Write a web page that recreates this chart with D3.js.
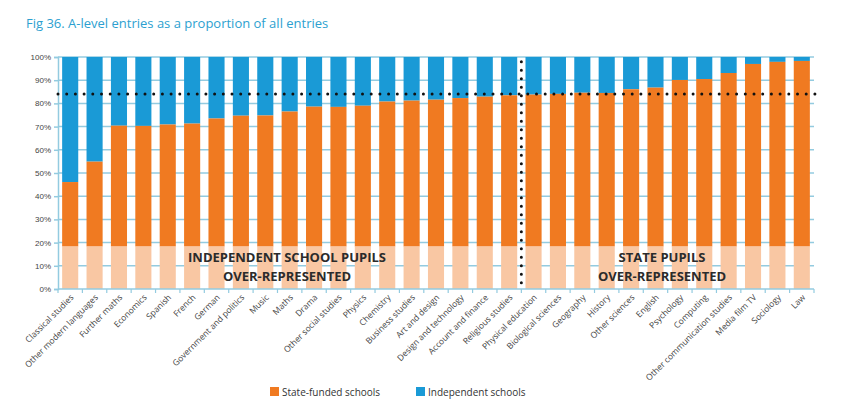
<!DOCTYPE html>
<html>
<head>
<meta charset="utf-8">
<script src="https://cdn.jsdelivr.net/npm/d3@7"></script>
<style>
  body { margin: 0; background: #fff; }
  svg { font-family: "Open Sans", "Noto Sans", sans-serif; }
</style>
</head>
<body>
<svg id="chart" width="846" height="419"></svg>
<script>
const subjects = ["Classical studies", "Other modern languages", "Further maths", "Economics", "Spanish",
  "French", "German", "Government and politics", "Music", "Maths", "Drama", "Other social studies",
  "Physics", "Chemistry", "Business studies", "Art and design", "Design and technology",
  "Account and finance", "Religious studies", "Physical education", "Biological sciences",
  "Geography", "History", "Other sciences", "English", "Psychology", "Computing",
  "Other communication studies", "Media film TV", "Sociology", "Law"];

// share of entries from state-funded schools (%), rest is independent
const stateShare = [46.1, 54.9, 70.4, 70.3, 70.9, 71.3, 73.5, 74.7, 74.8, 76.5, 78.6, 78.5,
  79.0, 80.8, 81.2, 81.6, 82.3, 82.9, 83.5, 83.8, 84.1, 84.6, 84.5, 86.1, 86.8, 90.1, 90.5,
  93.1, 97.0, 97.9, 98.3];

const baseShare = 18.3;   // pale band at the bottom of each bar
const averageState = 84;  // dotted reference line
const splitAfter = "Religious studies";
const yTicks = [0, 10, 20, 30, 40, 50, 60, 70, 80, 90, 100];

const svg = d3.select("#chart");
const margin = { top: 57, right: 32, bottom: 130, left: 58 };
const width = 846, height = 419;

const x = d3.scaleBand()
  .domain(subjects)
  .range([margin.left, width - margin.right])
  .paddingInner(0.34)
  .paddingOuter(0.17);

const y = d3.scaleLinear()
  .domain([0, 100])
  .range([height - margin.bottom, margin.top]);

const orange = "#f07a21", blue = "#1a9ad6", peach = "#f9c7a3", grid = "#93cbe0";

// title
svg.append("text")
  .attr("x", 26).attr("y", 28)
  .attr("fill", "#2c9fd0")
  .style("font-size", "13px")
  .text("Fig 36. A-level entries as a proportion of all entries");

// gridlines
svg.append("g")
  .selectAll("line")
  .data(yTicks.slice(1))
  .join("line")
  .attr("x1", margin.left).attr("x2", width - margin.right)
  .attr("y1", d => y(d)).attr("y2", d => y(d))
  .attr("stroke", grid).attr("stroke-width", 1.5);

const bars = svg.append("g")
  .selectAll("g")
  .data(subjects.map((s, i) => ({ s, v: stateShare[i] })))
  .join("g");

bars.append("rect")
  .attr("x", d => x(d.s)).attr("width", x.bandwidth())
  .attr("y", y(100)).attr("height", d => y(d.v) - y(100))
  .attr("fill", blue);

bars.append("rect")
  .attr("x", d => x(d.s)).attr("width", x.bandwidth())
  .attr("y", d => y(d.v)).attr("height", d => y(baseShare) - y(d.v))
  .attr("fill", orange);

bars.append("rect")
  .attr("x", d => x(d.s)).attr("width", x.bandwidth())
  .attr("y", y(baseShare)).attr("height", y(0) - y(baseShare))
  .attr("fill", peach);

// y axis
svg.append("g")
  .attr("transform", `translate(${margin.left},0)`)
  .call(d3.axisLeft(y).tickValues(yTicks).tickFormat(d => d + "%").tickSize(4).tickPadding(3))
  .call(g => g.selectAll(".domain, line").attr("stroke", grid).attr("stroke-width", 1.5))
  .call(g => g.selectAll("text").attr("fill", "#444").style("font-size", "8px"));

// x axis
const boundaries = subjects.map(s => x(s) - x.step() * x.paddingInner() / 2).concat([width - margin.right]);
const xg = svg.append("g")
  .attr("transform", `translate(0,${y(0)})`);
xg.append("line")
  .attr("x1", margin.left).attr("x2", width - margin.right)
  .attr("stroke", grid).attr("stroke-width", 1.5);
xg.selectAll(".tick")
  .data(boundaries)
  .join("line")
  .attr("x1", d => d).attr("x2", d => d)
  .attr("y1", 0).attr("y2", 4)
  .attr("stroke", grid).attr("stroke-width", 1.2);
xg.selectAll("text")
  .data(subjects)
  .join("text")
  .attr("transform", d => `translate(${x(d) + x.bandwidth() / 2 + 4},${9}) rotate(-45)`)
  .attr("text-anchor", "end")
  .attr("fill", "#444")
  .style("font-size", "8.5px")
  .text(d => d);

// dotted reference lines
svg.append("line")
  .attr("x1", margin.left).attr("x2", width - margin.right + 2)
  .attr("y1", y(averageState)).attr("y2", y(averageState))
  .attr("stroke", "#111").attr("stroke-width", 3)
  .attr("stroke-linecap", "round").attr("stroke-dasharray", "0 8.7");

const splitX = x(splitAfter) + x.bandwidth() + x.step() * x.paddingInner() / 2;
svg.append("line")
  .attr("x1", splitX).attr("x2", splitX)
  .attr("y1", y(98)).attr("y2", y(0))
  .attr("stroke", "#111").attr("stroke-width", 3)
  .attr("stroke-linecap", "round").attr("stroke-dasharray", "0 8.5");

// region notes
const notes = [
  { cx: 287, lines: ["INDEPENDENT SCHOOL PUPILS", "OVER-REPRESENTED"] },
  { cx: 662, lines: ["STATE PUPILS", "OVER-REPRESENTED"] }
];
notes.forEach(n => {
  svg.append("text")
    .attr("text-anchor", "middle")
    .attr("fill", "#2b2b2b")
    .style("font-size", "13px").style("font-weight", "bold")
    .selectAll("tspan")
    .data(n.lines)
    .join("tspan")
    .attr("x", n.cx)
    .attr("y", (d, i) => 262 + i * 19)
    .text(d => d);
});

// legend
const legend = [{ label: "State-funded schools", color: orange, x: 270 }, { label: "Independent schools", color: blue, x: 416 }];
const lg = svg.append("g").selectAll("g").data(legend).join("g")
  .attr("transform", d => `translate(${d.x},387)`);
lg.append("rect").attr("width", 9).attr("height", 9).attr("fill", d => d.color);
lg.append("text").attr("x", 12).attr("y", 9)
  .attr("fill", "#333").style("font-size", "10px")
  .text(d => d.label);
</script>
</body>
</html>
